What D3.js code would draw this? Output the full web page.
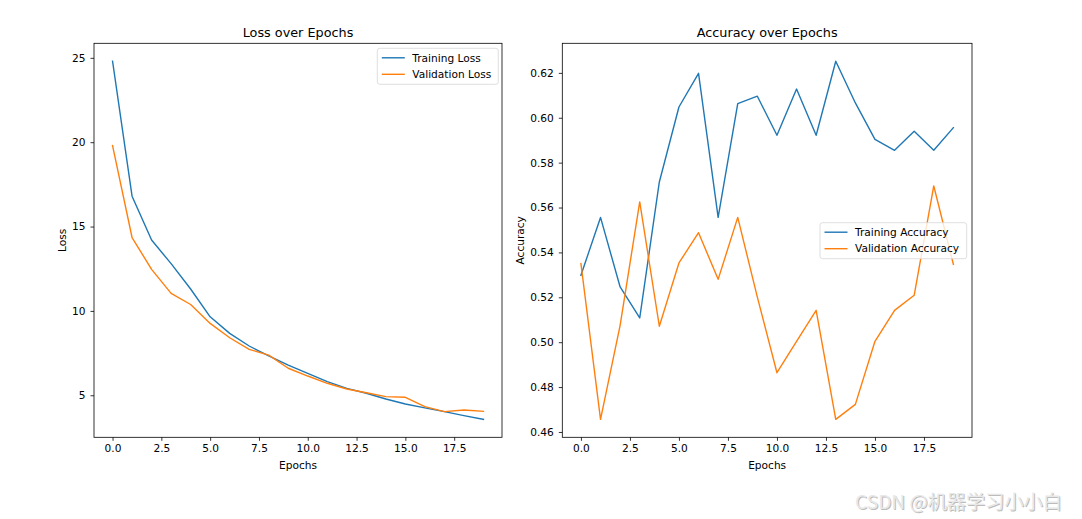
<!DOCTYPE html>
<html>
<head>
<meta charset="utf-8">
<script src="https://cdn.jsdelivr.net/npm/d3@7"></script>
<style>
    html, body { margin: 0; padding: 0; background: #fff; }
    svg { display: block; font-family: "DejaVu Sans", sans-serif; }
</style>
</head>
<body>
<svg id="chart" width="1082" height="519"></svg>
<script>
var epochs = d3.range(20);

var trainLoss = [24.8, 16.8, 14.2, 12.8, 11.3, 9.65, 8.67, 7.92, 7.33, 6.79,
    6.30, 5.81, 5.41, 5.12, 4.78, 4.48, 4.25, 4.03, 3.79, 3.57];
var valLoss = [19.8, 14.35, 12.46, 11.04, 10.38, 9.26, 8.41, 7.72, 7.38, 6.60,
    6.14, 5.71, 5.37, 5.15, 4.92, 4.88, 4.33, 4.03, 4.13, 4.05];

var trainAcc = [0.5298, 0.5556, 0.5246, 0.5108, 0.5714, 0.6048, 0.6198, 0.5556, 0.6063, 0.6096,
    0.5922, 0.6128, 0.5922, 0.6252, 0.6066, 0.5904, 0.5855, 0.5940, 0.5855, 0.5956];
var valAcc = [0.5350, 0.4656, 0.5075, 0.5625, 0.5071, 0.5353, 0.5488, 0.5280, 0.5556, 0.5201,
    0.4864, 0.5004, 0.5142, 0.4656, 0.4723, 0.5004, 0.5142, 0.5209, 0.5696, 0.5347];

var xTicks = [0, 2.5, 5, 7.5, 10, 12.5, 15, 17.5];
var lossTicks = [5, 10, 15, 20, 25];
var accTicks = [0.46, 0.48, 0.50, 0.52, 0.54, 0.56, 0.58, 0.60, 0.62];

var blue = '#1f77b4';
var orange = '#ff7f0e';
var labelSize = 10.6;

var svg = d3.select('#chart');
svg.append('rect').attr('width', 1082).attr('height', 519).attr('fill', '#fff');

// matplotlib-like 5% margins around the data
function paddedExtent(values) {
    var ext = d3.extent(values);
    var pad = (ext[1] - ext[0]) * 0.05;
    return [ext[0] - pad, ext[1] + pad];
}

function drawPanel(opts) {
    var g = svg.append('g');
    var x = d3.scaleLinear().domain(paddedExtent(epochs)).range([opts.left, opts.right]);
    var y = d3.scaleLinear()
        .domain(paddedExtent(opts.series[0].values.concat(opts.series[1].values)))
        .range([opts.bottom, opts.top]);

    var xAxis = g.append('g')
        .attr('transform', 'translate(0,' + opts.bottom + ')')
        .call(d3.axisBottom(x).tickValues(xTicks).tickFormat(d3.format('.1f'))
            .tickSize(3.5).tickPadding(3.5));
    var yAxis = g.append('g')
        .attr('transform', 'translate(' + opts.left + ',0)')
        .call(d3.axisLeft(y).tickValues(opts.yTicks).tickFormat(opts.yFormat)
            .tickSize(3.5).tickPadding(5));

    [xAxis, yAxis].forEach(function(ax) {
        ax.select('.domain').remove();
        ax.selectAll('.tick line').attr('stroke', '#000').attr('stroke-width', 0.8);
        ax.selectAll('.tick text').attr('fill', '#000').attr('font-size', labelSize)
            .attr('font-family', '"DejaVu Sans", sans-serif');
    });

    var line = d3.line()
        .x(function(d, i) { return x(epochs[i]); })
        .y(function(d) { return y(d); });

    opts.series.forEach(function(s) {
        g.append('path')
            .datum(s.values)
            .attr('fill', 'none')
            .attr('stroke', s.color)
            .attr('stroke-width', 1.4)
            .attr('stroke-linejoin', 'round')
            .attr('stroke-linecap', 'square')
            .attr('d', line);
    });

    g.append('rect')
        .attr('x', opts.left).attr('y', opts.top)
        .attr('width', opts.right - opts.left).attr('height', opts.bottom - opts.top)
        .attr('fill', 'none').attr('stroke', '#000').attr('stroke-width', 0.8);

    var cx = (opts.left + opts.right) / 2;
    g.append('text').attr('x', cx).attr('y', 36.5)
        .attr('text-anchor', 'middle').attr('font-size', 12.8).text(opts.title);
    g.append('text').attr('x', cx).attr('y', 468.5)
        .attr('text-anchor', 'middle').attr('font-size', labelSize).text('Epochs');
    g.append('text')
        .attr('transform', 'translate(' + opts.yLabelX + ',' + ((opts.top + opts.bottom) / 2) + ') rotate(-90)')
        .attr('text-anchor', 'middle').attr('font-size', labelSize).text(opts.yLabel);

    // legend
    var lg = g.append('g').attr('transform', 'translate(' + opts.legend.x + ',' + opts.legend.y + ')');
    lg.append('rect')
        .attr('width', opts.legend.w).attr('height', 36)
        .attr('rx', 2.5)
        .attr('fill', '#fff').attr('fill-opacity', 0.8)
        .attr('stroke', '#d6d6d6').attr('stroke-width', 0.8);
    opts.series.forEach(function(s, i) {
        var yy = 9.5 + i * 16.5;
        lg.append('line')
            .attr('x1', 4.5).attr('x2', 27.5).attr('y1', yy).attr('y2', yy)
            .attr('stroke', s.color).attr('stroke-width', 1.4);
        lg.append('text')
            .attr('x', 35).attr('y', yy + 3.8)
            .attr('font-size', labelSize).text(s.name);
    });
}

drawPanel({
    left: 94, right: 502, top: 43.3, bottom: 437.3,
    title: 'Loss over Epochs',
    yLabel: 'Loss', yLabelX: 65.5,
    yTicks: lossTicks, yFormat: d3.format('d'),
    series: [
        { name: 'Training Loss', values: trainLoss, color: blue },
        { name: 'Validation Loss', values: valLoss, color: orange }
    ],
    legend: { x: 377.3, y: 48.3, w: 121 }
});

drawPanel({
    left: 562.3, right: 972, top: 43.3, bottom: 437.3,
    title: 'Accuracy over Epochs',
    yLabel: 'Accuracy', yLabelX: 524,
    yTicks: accTicks, yFormat: d3.format('.2f'),
    series: [
        { name: 'Training Accuracy', values: trainAcc, color: blue },
        { name: 'Validation Accuracy', values: valAcc, color: orange }
    ],
    legend: { x: 820, y: 222.7, w: 146.7 }
});

// watermark
var wm = svg.append('g').attr('font-family', '"Noto Sans CJK SC", "Noto Sans", sans-serif')
    .attr('font-size', 19.2);
wm.append('text').attr('x', 856).attr('y', 510).attr('fill', '#bcbcbc')
    .text('CSDN @机器学习小小白');
wm.append('text').attr('x', 855).attr('y', 509).attr('fill', '#e8e8e8')
    .text('CSDN @机器学习小小白');
</script>
</body>
</html>
